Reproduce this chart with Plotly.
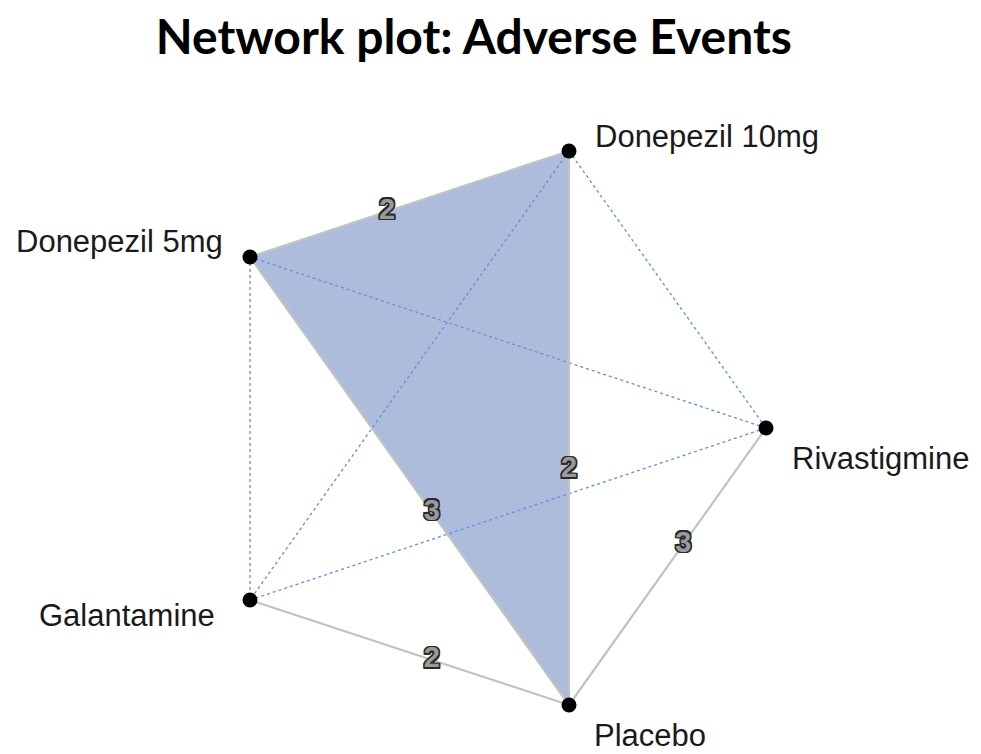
import plotly.graph_objects as go

# Treatments and their positions in the network layout
treatments = ["Donepezil 10mg", "Donepezil 5mg", "Galantamine", "Placebo", "Rivastigmine"]
node_x = [569, 250, 250, 569, 766]
node_y = [151, 257, 600, 705, 428]

# Direct comparisons (number of studies) and where along the edge the count sits
direct_edges = [("Donepezil 5mg", "Donepezil 10mg"), ("Donepezil 10mg", "Placebo"),
                ("Donepezil 5mg", "Placebo"), ("Rivastigmine", "Placebo"),
                ("Galantamine", "Placebo")]
direct_counts = [2, 2, 3, 3, 2]
label_frac = [0.43, 0.576, 0.57, 0.42, 0.57]

# Comparisons without direct evidence
indirect_edges = [("Donepezil 5mg", "Galantamine"), ("Donepezil 5mg", "Rivastigmine"),
                  ("Donepezil 10mg", "Galantamine"), ("Donepezil 10mg", "Rivastigmine"),
                  ("Galantamine", "Rivastigmine")]

# Multi-arm trial shaded as a polygon
multi_arm = ["Donepezil 5mg", "Donepezil 10mg", "Placebo"]

pos = {t: (x, y) for t, x, y in zip(treatments, node_x, node_y)}

fig = go.Figure()

px = [pos[t][0] for t in multi_arm] + [pos[multi_arm[0]][0]]
py = [pos[t][1] for t in multi_arm] + [pos[multi_arm[0]][1]]
fig.add_trace(go.Scatter(x=px, y=py, mode="lines", fill="toself",
                         fillcolor="#aebcdb", line=dict(width=0), hoverinfo="skip"))

for a, b in indirect_edges:
    fig.add_trace(go.Scatter(x=[pos[a][0], pos[b][0]], y=[pos[a][1], pos[b][1]],
                             mode="lines", line=dict(color="#5f8fe0", width=1.3, dash="3px,3px"),
                             hoverinfo="skip"))

for a, b in direct_edges:
    fig.add_trace(go.Scatter(x=[pos[a][0], pos[b][0]], y=[pos[a][1], pos[b][1]],
                             mode="lines", line=dict(color="#c2c2c2", width=2.2),
                             hoverinfo="skip"))

fig.add_trace(go.Scatter(x=node_x, y=node_y, mode="markers",
                         marker=dict(size=15, color="#000000"), hoverinfo="skip"))

lx, ly = [], []
for (a, b), f in zip(direct_edges, label_frac):
    lx.append(pos[a][0] + f * (pos[b][0] - pos[a][0]))
    ly.append(pos[a][1] + f * (pos[b][1] - pos[a][1]))
outline = ("1.5px 1.5px 0 #2a2a2a, -1.5px -1.5px 0 #2a2a2a, 1.5px -1.5px 0 #2a2a2a, "
           "-1.5px 1.5px 0 #2a2a2a, 0 1.5px 0 #2a2a2a, 0 -1.5px 0 #2a2a2a, "
           "1.5px 0 0 #2a2a2a, -1.5px 0 0 #2a2a2a")
fig.add_trace(go.Scatter(x=lx, y=ly, mode="text", text=[str(c) for c in direct_counts],
                         textfont=dict(family="Liberation Sans", size=29, color="#9a9a9a",
                                       weight="bold", shadow=outline),
                         hoverinfo="skip"))

# Treatment names beside each node
label_style = {
    "Donepezil 10mg": ("left", 24, 15),
    "Donepezil 5mg": ("right", -25, 16),
    "Rivastigmine": ("left", 24, -30),
    "Galantamine": ("right", -33, -15),
    "Placebo": ("left", 23, -30),
}
for t in treatments:
    anchor, dx, dy = label_style[t]
    fig.add_annotation(x=pos[t][0], y=pos[t][1], text=t, showarrow=False,
                       xanchor=anchor, yanchor="middle", xshift=dx, yshift=dy,
                       font=dict(family="Liberation Sans", size=31, color="#1a1a1a"))

fig.update_layout(
    width=981, height=754,
    margin=dict(l=0, r=0, t=0, b=0),
    paper_bgcolor="white", plot_bgcolor="white",
    showlegend=False,
    title=dict(text="<b>Network plot: Adverse Events</b>", x=0.483, xanchor="center",
               y=0.951, yanchor="middle",
               font=dict(family="Lato", size=48, color="#000000")),
    xaxis=dict(range=[0, 981], visible=False, domain=[0, 1]),
    yaxis=dict(range=[754, 0], visible=False, domain=[0, 1]),
)

fig.write_html("out.html")
